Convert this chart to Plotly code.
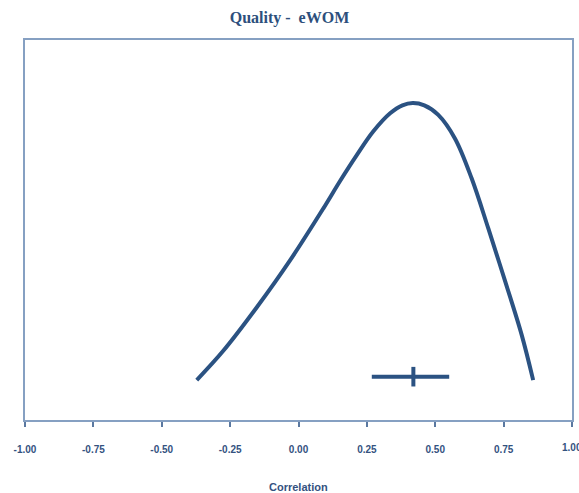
import plotly.graph_objects as go

# Curve (correlation, relative density)
curve_r = [-0.372, -0.275, -0.153, -0.031, 0.091, 0.152, 0.213, 0.273, 0.335, 0.380,
           0.418, 0.460, 0.511, 0.572, 0.633, 0.694, 0.756, 0.816, 0.858]
curve_y = [0.105, 0.182, 0.296, 0.420, 0.557, 0.629, 0.697, 0.759, 0.807, 0.828,
           0.834, 0.828, 0.803, 0.741, 0.636, 0.504, 0.364, 0.224, 0.105]

# Point estimate and confidence interval
est_r = [0.420]
ci_low = [0.268]
ci_high = [0.551]
est_y = [0.114]

tick_vals = [-1.0, -0.75, -0.5, -0.25, 0.0, 0.25, 0.5, 0.75, 1.0]
tick_text = ["-1.00", "-0.75", "-0.50", "-0.25", "0.00", "0.25", "0.50", "0.75", "1.00"]

col = "#2b5282"
txtcol = "#34527f"

fig = go.Figure()
fig.add_trace(go.Scatter(x=curve_r, y=curve_y, mode="lines",
                         line=dict(color=col, width=4, shape="spline", smoothing=1.0),
                         hoverinfo="skip", showlegend=False))
fig.add_trace(go.Scatter(
    x=est_r, y=est_y, mode="markers",
    marker=dict(symbol="line-ns", size=14, line=dict(color=col, width=4), color=col),
    error_x=dict(type="data", symmetric=False,
                 array=[h - e for h, e in zip(ci_high, est_r)],
                 arrayminus=[e - l for e, l in zip(est_r, ci_low)],
                 color=col, thickness=4, width=0),
    showlegend=False))

# last tick label (drawn as annotation so it runs off the edge like the original)
fig.add_annotation(x=tick_vals[-1], xref="x", y=0, yref="paper", yshift=-27,
                   text="<b>" + tick_text[-1] + "</b>", showarrow=False,
                   xanchor="center", yanchor="middle",
                   font=dict(family="Liberation Sans", size=10, color=txtcol))
# axis title
fig.add_annotation(x=0.5, xref="paper", y=0, yref="paper", yshift=-67,
                   text="<b>Correlation</b>", showarrow=False,
                   xanchor="center", yanchor="middle",
                   font=dict(family="Liberation Sans", size=11, color=txtcol))

fig.update_layout(
    width=579, height=493,
    margin=dict(l=25, r=7, t=40, b=73, autoexpand=False),
    paper_bgcolor="white", plot_bgcolor="white",
    title=dict(text="<b>Quality -  eWOM</b>", x=0.5, xanchor="center", y=1 - 17 / 493, yanchor="middle",
               font=dict(family="Liberation Serif", size=16, color="#2d4f7c")),
    xaxis=dict(range=[-1, 1], tickvals=tick_vals, ticktext=tick_text[:-1] + [""],
               automargin=False,
               showgrid=False, zeroline=False, showline=True, mirror=True,
               linecolor="#86a0c2", linewidth=2,
               ticks="outside", ticklen=5, tickwidth=2, tickcolor="#5a78a0",
               ticklabelstandoff=14,
               tickfont=dict(family="Liberation Sans", size=10, color=txtcol, weight="bold")),
    yaxis=dict(range=[0, 1], showgrid=False, zeroline=False, showticklabels=False, automargin=False,
               showline=True, mirror=True, linecolor="#86a0c2", linewidth=2, ticks=""),
)

fig.write_html("out.html")
